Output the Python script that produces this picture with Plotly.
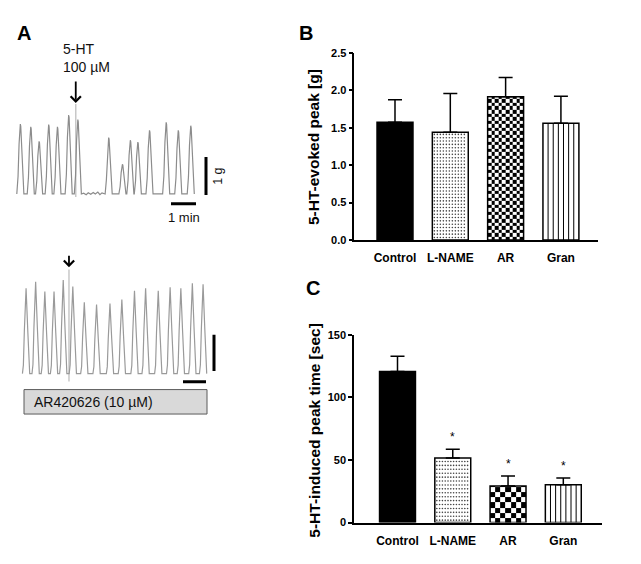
import plotly.graph_objects as go

# page is 641x564; the browser body keeps its default 8px margin, so the figure is 16px smaller
W, H = 641, 564
PAGE_MARGIN = 8
FW, FH = W - 2 * PAGE_MARGIN, H - 2 * PAGE_MARGIN
FONT = "Liberation Sans, Arial, sans-serif"

# ---------------- data ----------------
categories = ["Control", "L-NAME", "AR", "Gran"]
peak_g = [1.575, 1.44, 1.915, 1.562]          # panel B
peak_g_sem = [0.30, 0.52, 0.26, 0.36]
peak_time_s = [120.8, 51.6, 29.2, 30.2]       # panel C
peak_time_sem = [12.0, 7.0, 8.0, 5.5]
significance = ["", "*", "*", "*"]
b_ticks = [0.0, 0.5, 1.0, 1.5, 2.0, 2.5]
c_ticks = [0, 50, 100, 150]

# panel A traces: peak times (s) and amplitudes (g)
top_peak_t = [8, 33, 53, 76, 97, 124, 146, 220, 253, 272, 290, 318, 358, 387, 417]
top_peak_g = [1.83, 1.76, 1.38, 1.82, 1.76, 2.07, 1.95, 1.48, 0.78, 1.41, 1.36, 1.67, 1.88, 1.67, 1.79]
top_noise_t = [160, 166, 171, 177, 183, 188, 194, 199, 204, 209]
top_noise_g = [0.02, -0.02, 0.03, -0.01, 0.04, 0.0, 0.05, -0.02, 0.03, 0.0]
top_end_s = 425
top_5ht_s = 141

bot_peak_t = [8, 33, 57, 81, 105, 130, 160, 192, 227, 258, 291, 320, 353, 384, 412, 442, 470]
bot_peak_g = [2.36, 2.54, 2.27, 2.27, 2.59, 2.41, 1.97, 1.91, 1.94, 2.05, 2.29, 2.36, 2.29, 2.39, 2.36, 2.50, 2.47]
bot_5ht_s = 120

scale_g = 1.0
scale_s = 60.0


def fx(px):
    return (px - PAGE_MARGIN) / FW


def fy(py):
    return 1 - (py - PAGE_MARGIN) / FH


def pulse_trace(peaks_t, peaks_g, offs, fracs, extra=()):
    pts = []
    for t, g in zip(peaks_t, peaks_g):
        for o, f in zip(offs, fracs):
            pts.append((t + o, g * f))
    pts += list(extra)
    pts.sort()
    return [p[0] for p in pts], [p[1] for p in pts]


fig = go.Figure()

# ---------- Panel A ----------
tx, ty = pulse_trace(top_peak_t, top_peak_g,
                     [-8.5, -5.5, -3, -1, 0, 1, 3, 5.5, 8.5],
                     [0, 0.25, 0.72, 0.97, 1, 0.97, 0.72, 0.25, 0],
                     list(zip(top_noise_t, top_noise_g)) + [(top_end_s, 0.0)])
fig.add_trace(go.Scatter(x=tx, y=ty, mode="lines", line=dict(color="#8c8c8c", width=1.2),
                         xaxis="x3", yaxis="y3", hoverinfo="skip"))
bx, by = pulse_trace(bot_peak_t, bot_peak_g,
                     [-9.5, -7, -4.5, 0, 4.5, 7, 9.5],
                     [0, 0.1, 0.5, 1, 0.5, 0.1, 0])
fig.add_trace(go.Scatter(x=bx, y=by, mode="lines", line=dict(color="#9a9a9a", width=1.2),
                         xaxis="x4", yaxis="y4", hoverinfo="skip"))

# ---------- Panel B / C bars ----------
xpos = list(range(len(categories)))
BW = 0.65
i_ctrl, i_lname, i_ar, i_gran = 0, 1, 2, 3


def bar_trace(vals, sem, xa, ya):
    return go.Bar(
        x=xpos, y=vals, width=BW, xaxis=xa, yaxis=ya, hoverinfo="skip",
        marker=dict(color=["black", "white", "rgba(0,0,0,0)", "white"],
                    line=dict(color="black", width=1.5)),
        error_y=dict(type="data", array=sem, arrayminus=[0] * len(sem), symmetric=False,
                     color="black", thickness=1.5, width=7),
    )


def checker(xc, top, ncol, px_per_x, px_per_y, xa, ya):
    cw = BW / ncol
    ch = cw * px_per_x / px_per_y
    xe = [xc - BW / 2 + i * cw for i in range(ncol + 1)]
    ye = [0.0]
    while ye[-1] + ch < top - 1e-9:
        ye.append(ye[-1] + ch)
    ye.append(top)
    z = [[(r + c) % 2 for c in range(ncol)] for r in range(len(ye) - 1)]
    return go.Heatmap(x=xe, y=ye, z=z, zmin=0, zmax=1, showscale=False,
                      colorscale=[[0, "white"], [1, "black"]], hoverinfo="skip",
                      xaxis=xa, yaxis=ya)


def dots(xc, top, step_px_x, step_px_y, px_per_x, px_per_y, xa, ya):
    dx = step_px_x / px_per_x
    dy = step_px_y / px_per_y
    xs0 = xc - BW / 2 + 2.0 / px_per_x
    xs1 = xc + BW / 2 - 1.5 / px_per_x
    xs, ys = [], []
    y = 2.5 / px_per_y
    while y < top - 1.5 / px_per_y:
        x = xs0
        while x < xs1:
            xs.append(x)
            ys.append(y)
            x += dx
        y += dy
    return go.Scatter(x=xs, y=ys, mode="markers", xaxis=xa, yaxis=ya, hoverinfo="skip",
                      marker=dict(size=1.6, color="#444", line=dict(width=0)))


def stripes(xc, top, n, xa, ya):
    xs, ys = [], []
    for i in range(1, n):
        x = xc - BW / 2 + i * BW / n
        xs += [x, x, None]
        ys += [0, top, None]
    return go.Scatter(x=xs, y=ys, mode="lines", xaxis=xa, yaxis=ya, hoverinfo="skip",
                      line=dict(color="black", width=1))


# axis geometry (reference pixels)
B_x0, B_x1, B_y0, B_y1 = 354.3, 597.7, 48, 239
C_x0, C_x1, C_y0, C_y1 = 354.0, 602.0, 336, 528
B_xr = [-0.736, 3.665]
C_xr = [-0.787, 3.70]
B_ppx = (B_x1 - B_x0) / (B_xr[1] - B_xr[0])
C_ppx = (C_x1 - C_x0) / (C_xr[1] - C_xr[0])
B_ppy = (B_y1 - B_y0) / b_ticks[-1]
C_ppy = (C_y1 - C_y0) / c_ticks[-1]

fig.add_trace(checker(i_ar, peak_g[i_ar], 10, B_ppx, B_ppy, "x", "y"))
fig.add_trace(checker(i_ar, peak_time_s[i_ar], 7, C_ppx, C_ppy, "x2", "y2"))
fig.add_trace(bar_trace(peak_g, peak_g_sem, "x", "y"))
fig.add_trace(bar_trace(peak_time_s, peak_time_sem, "x2", "y2"))
fig.add_trace(dots(i_lname, peak_g[i_lname], 3.0, 3.4, B_ppx, B_ppy, "x", "y"))
fig.add_trace(dots(i_lname, peak_time_s[i_lname], 2.8, 4.0, C_ppx, C_ppy, "x2", "y2"))
fig.add_trace(stripes(i_gran, peak_g[i_gran], 7, "x", "y"))
fig.add_trace(stripes(i_gran, peak_time_s[i_gran], 7, "x2", "y2"))

axis_common = dict(showline=True, linewidth=1.5, linecolor="black", showgrid=False,
                   zeroline=False, fixedrange=True)
tickfont_y = dict(family=FONT, size=11, color="black", weight="bold")
tickfont_x = dict(family=FONT, size=12, color="black", weight="bold")

annotations = []
shapes = []

# trace axes: t = (px-x0)*sx ; g = (y0-py)/sy
top_sx, top_x0, top_sy, top_y0 = 2.4, 17, 39, 192
bot_sx, bot_x0, bot_sy, bot_y0 = 2.61, 23, 37, 375.7
A_left, A_right = 8, 230

fig.update_layout(
    width=FW, height=FH, margin=dict(l=0, r=0, t=0, b=0),
    paper_bgcolor="white", plot_bgcolor="rgba(0,0,0,0)", showlegend=False,
    barmode="overlay",
    xaxis=dict(domain=[fx(B_x0), fx(B_x1)], range=B_xr, anchor="y", tickvals=xpos,
               ticktext=categories, ticks="", tickfont=tickfont_x, ticklabelstandoff=6,
               **axis_common),
    yaxis=dict(domain=[fy(B_y1), fy(B_y0)], range=[0, b_ticks[-1]], anchor="x",
               tickvals=b_ticks, ticktext=[f"{v:.1f}" for v in b_ticks], ticks="outside",
               ticklen=4, tickwidth=1.5, tickcolor="black", tickfont=tickfont_y, **axis_common),
    xaxis2=dict(domain=[fx(C_x0), fx(C_x1)], range=C_xr, anchor="y2", tickvals=xpos,
                ticktext=categories, ticks="", tickfont=tickfont_x, ticklabelstandoff=6,
                **axis_common),
    yaxis2=dict(domain=[fy(C_y1), fy(C_y0)], range=[0, c_ticks[-1]], anchor="x2",
                tickvals=c_ticks, ticktext=[str(v) for v in c_ticks], ticks="outside",
                ticklen=4, tickwidth=1.5, tickcolor="black", tickfont=tickfont_y, **axis_common),
    xaxis3=dict(domain=[fx(A_left), fx(A_right)],
                range=[(A_left - top_x0) * top_sx, (A_right - top_x0) * top_sx],
                anchor="y3", visible=False, fixedrange=True),
    yaxis3=dict(domain=[fy(230), fy(40)], range=[(top_y0 - 230) / top_sy, (top_y0 - 40) / top_sy],
                anchor="x3", visible=False, fixedrange=True),
    xaxis4=dict(domain=[fx(A_left), fx(A_right)],
                range=[(A_left - bot_x0) * bot_sx, (A_right - bot_x0) * bot_sx],
                anchor="y4", visible=False, fixedrange=True),
    yaxis4=dict(domain=[fy(430), fy(240)], range=[(bot_y0 - 430) / bot_sy, (bot_y0 - 240) / bot_sy],
                anchor="x4", visible=False, fixedrange=True),
)


def ann(text, x, y, xref="paper", yref="paper", size=12, xanchor="center", **kw):
    d = dict(text=text, x=x, y=y, xref=xref, yref=yref, showarrow=False,
             xanchor=xanchor, yanchor="middle",
             font=dict(family=FONT, size=size, color=kw.pop("color", "black")))
    d.update(kw)
    annotations.append(d)


# panel letters
for letter, px, py in [("A", 24, 27), ("B", 306, 27), ("C", 313, 288)]:
    ann(f"<b>{letter}</b>", fx(px), fy(py), size=20)

# axis titles
ann("<b>5-HT-evoked peak [g]</b>", fx(313), fy(144), size=15.5, textangle=-90)
ann("<b>5-HT-induced peak time [sec]</b>", fx(315), fy(434), size=15.5, textangle=-90)

# significance stars
for i, s in enumerate(significance):
    if s:
        ann(s, xpos[i], peak_time_s[i] + peak_time_sem[i], xref="x2", yref="y2", size=12, yshift=12)

# panel A: 5-HT markers and arrows
shapes.append(dict(type="line", xref="x3", yref="y3", x0=top_5ht_s, x1=top_5ht_s,
                   y0=-0.08, y1=2.36, line=dict(color="#c8c8c8", width=1.5), layer="below"))
shapes.append(dict(type="line", xref="x4", yref="y4", x0=bot_5ht_s, x1=bot_5ht_s,
                   y0=-0.22, y1=2.88, line=dict(color="#c8c8c8", width=1.5), layer="below"))
annotations.append(dict(text="", x=top_5ht_s, y=2.385, xref="x3", yref="y3", showarrow=True,
                        ax=0, ay=-23, arrowhead=4, arrowsize=1.1, arrowwidth=1.8,
                        arrowcolor="black", standoff=0))
annotations.append(dict(text="", x=bot_5ht_s, y=2.94, xref="x4", yref="y4", showarrow=True,
                        ax=0, ay=-13, arrowhead=4, arrowsize=1.1, arrowwidth=1.8,
                        arrowcolor="black", standoff=0))
ann("5-HT<br>100 µM", fx(61), fy(52.5), size=14, xanchor="left", align="left", color="#111")

# scale bars (top)
t_sb = (206 - top_x0) * top_sx
shapes.append(dict(type="line", xref="x3", yref="y3", x0=t_sb, x1=t_sb, y0=-0.03,
                   y1=-0.03 + scale_g, line=dict(color="black", width=3)))
t_hb = (171 - top_x0) * top_sx
shapes.append(dict(type="line", xref="x3", yref="y3", x0=t_hb, x1=t_hb + scale_s,
                   y0=-0.256, y1=-0.256, line=dict(color="black", width=3)))
ann("1 g", (218 - top_x0) * top_sx, 0.45, xref="x3", yref="y3", size=12.5, textangle=-90, color="#111")
ann("1 min", t_hb + scale_s / 2, -0.62, xref="x3", yref="y3", size=13, color="#111")

# scale bars (bottom)
t_sb2 = (214 - bot_x0) * bot_sx
shapes.append(dict(type="line", xref="x4", yref="y4", x0=t_sb2, x1=t_sb2, y0=0.073,
                   y1=0.073 + scale_g, line=dict(color="black", width=3)))
t_hb2 = (183 - bot_x0) * bot_sx
shapes.append(dict(type="line", xref="x4", yref="y4", x0=t_hb2, x1=t_hb2 + scale_s,
                   y0=-0.224, y1=-0.224, line=dict(color="black", width=3)))

# drug box
shapes.append(dict(type="rect", xref="paper", yref="paper", x0=fx(24), x1=fx(207),
                   y0=fy(417), y1=fy(392), fillcolor="#d9d9d9", line=dict(color="#5a5a5a", width=1)))
ann("AR420626 (10 µM)", fx(32), fy(404.5), size=14, xanchor="left", color="#111")

fig.update_layout(annotations=annotations, shapes=shapes)
fig.write_html("out.html", config={"displayModeBar": False})
